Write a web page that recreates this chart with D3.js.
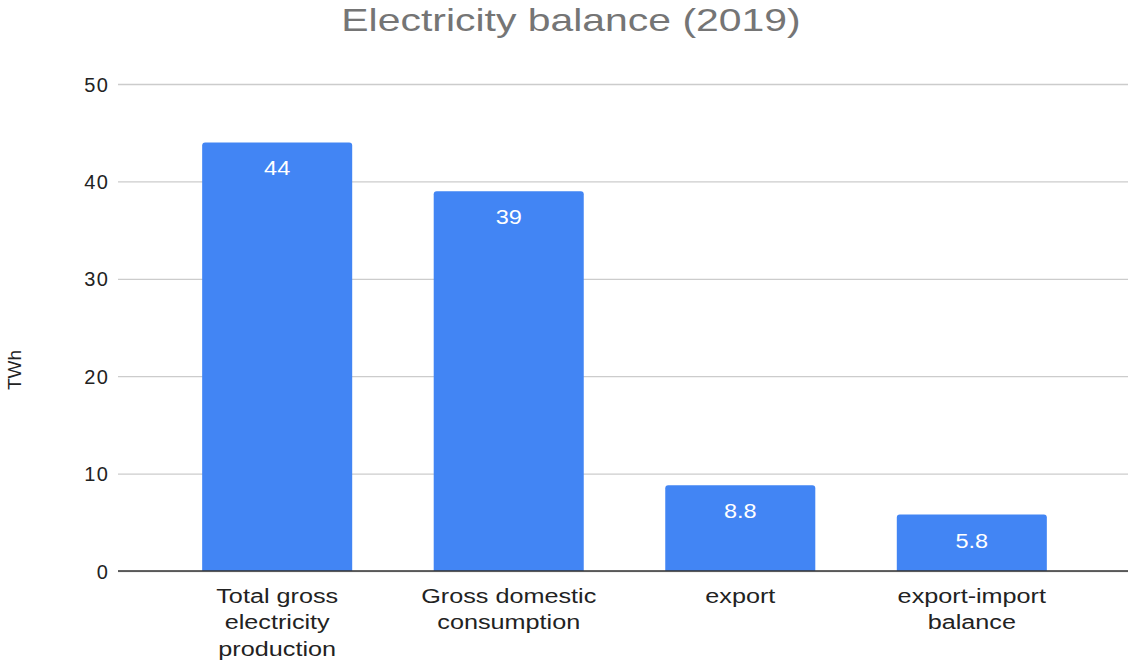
<!DOCTYPE html>
<html>
<head>
<meta charset="utf-8">
<script src="https://cdn.jsdelivr.net/npm/d3@7"></script>
<style>
  body { margin: 0; background: #fff; }
  text { font-family: "Liberation Sans", Arial, sans-serif; }
</style>
</head>
<body>
<svg id="chart" width="1129" height="664"></svg>
<script>
// data
var categories = [
    ["Total gross", "electricity", "production"],
    ["Gross domestic", "consumption"],
    ["export"],
    ["export-import", "balance"]
];
var values = [44, 39, 8.8, 5.8];
var labels = ["44", "39", "8.8", "5.8"];
var yTicks = [0, 10, 20, 30, 40, 50];

var svg = d3.select('#chart');
var plotL = 118, plotR = 1128, plotT = 84, plotB = 571;

// bands sit a touch right of the gridline span
var x = d3.scaleBand()
    .domain(d3.range(values.length))
    .range([plotL + 1.5, plotR + 1.5])
    .paddingInner(0.352)
    .paddingOuter(0.357);

var y = d3.scaleLinear()
    .domain([0, 50])
    .range([plotB, plotT]);

/*
 * gridlines + tick labels
 */
var yAxis = d3.axisLeft(y).tickValues(yTicks).tickSize(-(plotR - plotL)).tickPadding(10);
var gy = svg.append('g')
    .attr('transform', 'translate(' + plotL + ',0)')
    .call(yAxis);
gy.select('.domain').remove();
gy.selectAll('.tick line')
    .attr('stroke', '#cccccc')
    .attr('stroke-width', 1.3);
gy.selectAll('.tick text')
    .attr('fill', '#222')
    .attr('font-size', 20)
    .attr('letter-spacing', 1.2)
    .attr('x', -9)
    .attr('dy', '0.35em');

// bars with slightly rounded tops
var r = 3;
svg.append('g').selectAll('path')
    .data(values)
    .enter().append('path')
    .attr('fill', '#4285f4')
    .attr('d', function(d, i) {
        var x0 = x(i), x1 = x(i) + x.bandwidth(), y0 = y(0), y1 = y(d);
        return 'M' + x0 + ',' + y0 + 'V' + (y1 + r) + 'Q' + x0 + ',' + y1 + ' ' + (x0 + r) + ',' + y1 +
            'H' + (x1 - r) + 'Q' + x1 + ',' + y1 + ' ' + x1 + ',' + (y1 + r) + 'V' + y0 + 'Z';
    });

// baseline
svg.append('line')
    .attr('x1', plotL).attr('x2', plotR)
    .attr('y1', y(0)).attr('y2', y(0))
    .attr('stroke', '#333').attr('stroke-width', 1.5);

// value labels inside the bars
svg.append('g').selectAll('text')
    .data(values)
    .enter().append('text')
    .attr('transform', function(d, i) {
        return 'translate(' + (x(i) + x.bandwidth() / 2) + ',' + (y(d) + 33) + ') scale(1.12,1)';
    })
    .attr('text-anchor', 'middle')
    .attr('fill', '#fff')
    .attr('font-size', 21)
    .text(function(d, i) { return labels[i]; });

// category labels (multi-line)
var cat = svg.append('g').selectAll('text')
    .data(categories)
    .enter().append('text')
    .attr('transform', function(d, i) {
        return 'translate(' + (x(i) + x.bandwidth() / 2) + ',603) scale(1.2,1)';
    })
    .attr('text-anchor', 'middle')
    .attr('fill', '#222')
    .attr('font-size', 21);
cat.selectAll('tspan')
    .data(function(d) { return d; })
    .enter().append('tspan')
    .attr('x', 0)
    .attr('y', function(d, j) { return j * 26.5; })
    .text(function(d) { return d; });

// axis title
svg.append('text')
    .attr('transform', 'translate(21,370) rotate(-90)')
    .attr('text-anchor', 'middle')
    .attr('fill', '#222')
    .attr('font-size', 19)
    .text('TWh');

// chart title
svg.append('text')
    .attr('transform', 'translate(571,31) scale(1.32,1)')
    .attr('text-anchor', 'middle')
    .attr('fill', '#757575')
    .attr('font-size', 31)
    .text('Electricity balance (2019)');
</script>
</body>
</html>
